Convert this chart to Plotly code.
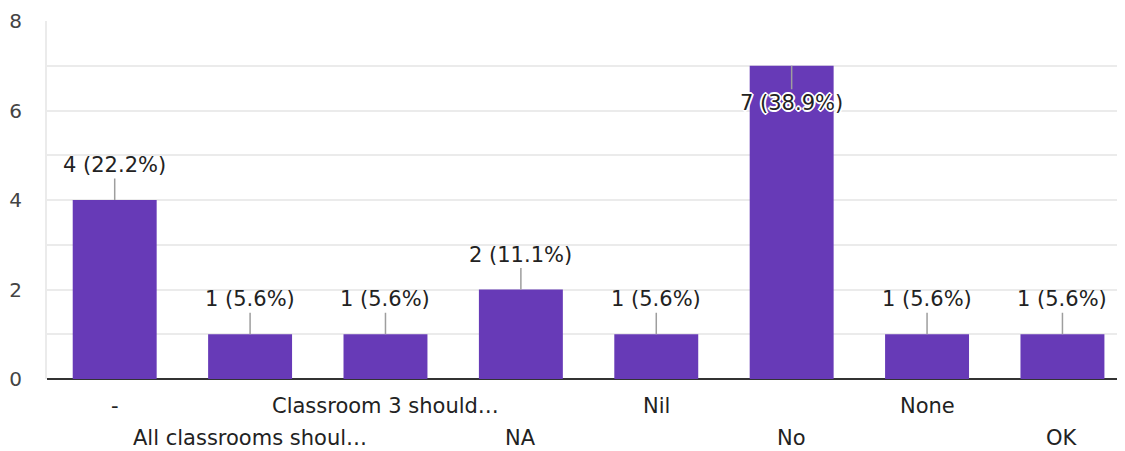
import plotly.graph_objects as go

categories = ["-", "All classrooms shoul…", "Classroom 3 should…", "NA", "Nil", "No", "None", "OK"]
counts = [4, 1, 1, 2, 1, 7, 1, 1]
pct_labels = ["22.2%", "5.6%", "5.6%", "11.1%", "5.6%", "38.9%", "5.6%", "5.6%"]
y_tick_vals = [0, 1, 2, 3, 4, 5, 6, 7, 8]
y_tick_text = ["0", "", "2", "", "4", "", "6", "", "8"]

BAR = "#673ab7"
FONT = "DejaVu Sans"
YMAX = 8

fig = go.Figure()
fig.add_trace(go.Bar(
    x=categories, y=counts, marker=dict(color=BAR, line=dict(width=0)),
    width=0.62, hoverinfo="skip",
))

annotations = []
for i, (c, v, p) in enumerate(zip(categories, counts, pct_labels)):
    inside = v >= YMAX - 1
    ann = dict(
        x=c, y=v, xref="x", yref="y",
        text=f"{v} ({p})", showarrow=True, arrowhead=0, arrowwidth=1.5,
        arrowcolor="#9e9e9e", ax=0, ay=(37 if inside else -35),
        font=dict(family=FONT, size=21, color="#222222"),
        standoff=0, startstandoff=0,
    )
    if inside:
        ann["font"]["shadow"] = "-1px -1px 0 #fff, 1px -1px 0 #fff, -1px 1px 0 #fff, 1px 1px 0 #fff, 0 2px 0 #fff, 0 -2px 0 #fff, 2px 0 0 #fff, -2px 0 0 #fff"
    annotations.append(ann)
    # category labels (staggered in two rows)
    annotations.append(dict(
        x=c, y=0, xref="x", yref="y", text=c, showarrow=False,
        yanchor="middle", yshift=(-27 if i % 2 == 0 else -59),
        font=dict(family=FONT, size=21, color="#222222"),
    ))

fig.update_layout(
    width=1125, height=451,
    margin=dict(l=39, r=8, t=13, b=80, pad=0, autoexpand=False),
    paper_bgcolor="white", plot_bgcolor="white",
    showlegend=False, bargap=0.38,
    annotations=annotations,
    font=dict(family=FONT),
)
fig.update_xaxes(
    type="category", categoryorder="array", categoryarray=categories,
    range=[-0.5, 7.462], showticklabels=False, showgrid=False,
    showline=False, zeroline=False, ticks="",
)
fig.update_yaxes(
    range=[0, YMAX], tickvals=y_tick_vals, ticktext=y_tick_text,
    showgrid=True, gridcolor="#ebebeb", gridwidth=1.5,
    showline=True, linecolor="#ebebeb", linewidth=2,
    zeroline=True, zerolinecolor="#333333", zerolinewidth=2,
    ticks="", ticklabelstandoff=19, automargin=False,
    tickfont=dict(family=FONT, size=20, color="#444444"),
)

fig.write_html("out.html")
